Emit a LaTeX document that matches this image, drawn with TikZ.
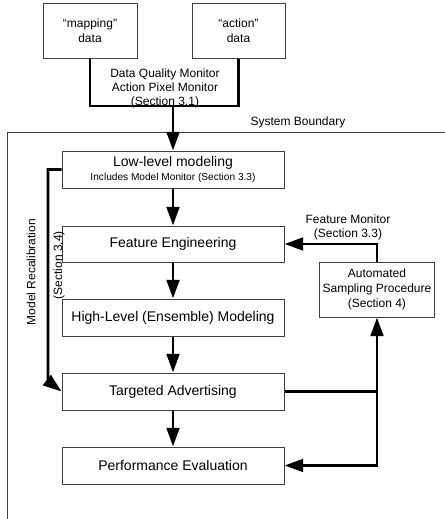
\documentclass[tikz,border=0pt]{standalone}
\usepackage{fontspec}
\setmainfont{Liberation Sans}
\usepackage{tikz}
\usetikzlibrary{arrows.meta,positioning,calc}
\definecolor{ink}{HTML}{000000}
\definecolor{edge}{HTML}{404040}
\tikzset{
  box/.style={draw=edge,line width=0.75pt,fill=white,align=center,inner sep=2pt,
    font=\fontsize{10.5}{12.5}\selectfont,minimum width=166.5pt,minimum height=27.75pt},
  src/.style={draw=edge,line width=0.75pt,fill=white,align=center,inner sep=2pt,
    font=\fontsize{9}{11}\selectfont,minimum height=41.25pt},
  flow/.style={-{Triangle[length=14pt,width=9.5pt]},line width=2.2pt,draw=ink},
  wire/.style={line width=2.2pt,draw=ink},
  lbl/.style={font=\fontsize{9}{10.5}\selectfont,align=center,inner sep=0pt},
  small/.style={font=\fontsize{7.6}{9}\selectfont}
}

\begin{document}
\begin{tikzpicture}[x=0.75pt,y=-0.75pt]
  \useasboundingbox (0,0) rectangle (445,519);
  % system boundary (runs off the page)
  \draw[edge,line width=0.75pt] (7,560) -- (7,132) -- (480,132);
  \node[lbl,anchor=south] (sysb) at (298,128) {System Boundary};

  \node[src,minimum width=70.5pt] (mapping) at (90,30.5) {``mapping''\\data};
  \node[src,minimum width=69.75pt] (action) at (238.5,30.5) {``action''\\data};
  \node[lbl] (dqm) at (165,88) {Data Quality Monitor\\Action Pixel Monitor\\(Section 3.1)};
  \coordinate (merge) at (173,106);

  \node[box] (lowlev) at (173,169.5) {Low-level modeling\\[-2pt]{\fontsize{7.6}{9}\selectfont Includes Model Monitor (Section 3.3)}};
  \node[box,minimum height=27pt] (feat) at (173,244) {Feature Engineering};
  \node[box] (high) at (173,317.5) {High-Level (Ensemble) Modeling};
  \node[box] (target) at (173,391.5) {Targeted Advertising};
  \node[box] (perf) at (173,465.5) {Performance Evaluation};
  \node[src,minimum width=84pt] (auto) at (377,289.5) {Automated\\Sampling Procedure\\(Section 4)};

  \node[lbl] (fmlbl) at (348,227) {Feature Monitor\\(Section 3.3)};
  \node[lbl,rotate=90] (recal) at (31,272) {Model Recalibration};
  \node[lbl,rotate=90] (sec34) at (59,265) {(Section 3.4)};

  \coordinate (split) at (377,391.5);
  \coordinate (bend) at (48,381);

  \draw[wire] (mapping.south) |- (merge) -| (action.south);
  \draw[flow] (merge) -- (lowlev);
  \draw[flow] (lowlev) -- (feat);
  \draw[flow] (feat) -- (high);
  \draw[flow] (high) -- (target);
  \draw[flow] (target) -- (perf);
  \draw[flow] (auto.north) |- (feat.east);
  \draw[wire] (target.east) -- (split);
  \draw[flow] (split) -- (auto.south);
  \draw[flow] (split) |- (perf.east);
  \draw[flow] (lowlev.west) -| (bend) -- (target.west);
\end{tikzpicture}
\end{document}
